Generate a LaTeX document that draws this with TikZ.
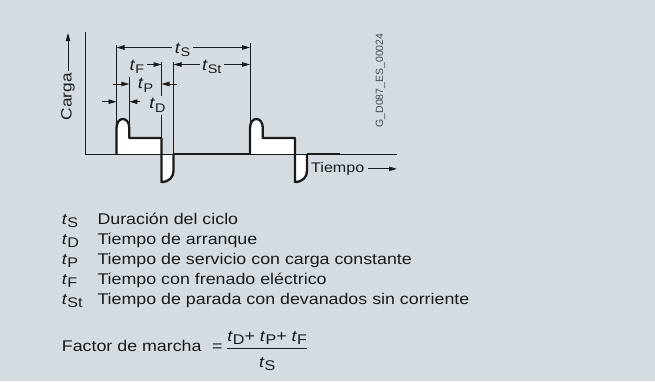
\documentclass[tikz,border=0pt]{standalone}
\usepackage{fontspec}
\setmainfont{Liberation Sans}[FakeStretch=1.15]
\newfontfamily\codefont{Liberation Sans}
\usetikzlibrary{positioning,arrows.meta}
\definecolor{sheet}{HTML}{D5DCE1}
\definecolor{ink}{HTML}{1A1A1A}
\definecolor{ink2}{HTML}{4A4A4A}
% t with a lowered upright index (legend, diagram)
\newcommand{\tsym}[1]{\textit{t}\raisebox{-3pt}{\fontsize{14}{16}\selectfont #1}}
\newcommand{\tlab}[1]{{\fontsize{16}{18}\selectfont\textit{t}}\raisebox{-3.5pt}{\fontsize{12.5}{14}\selectfont #1}}
\newcommand{\pulsepath}{(116.5,154.3) -- (116.5,128) .. controls (116.5,116) and (129.3,116) .. (129.3,128) -- (129.3,138) -- (161.5,138) -- (161.5,182) .. controls (169,182) and (173.5,177) .. (173.5,171) -- (173.5,154.3)}

\begin{document}
\begin{tikzpicture}[x=1pt, y=-1pt,
  font=\fontsize{15.5}{18}\selectfont, text=ink,
  >={Triangle[length=8pt,width=4.5pt]},
  axis/.style={draw=ink, line width=1pt},
  ext/.style={draw=ink, line width=0.9pt},
  dim/.style={->, draw=ink, line width=0.9pt},
  dimboth/.style={<->, draw=ink, line width=0.9pt},
  load/.style={draw=ink, line width=2.3pt, line join=round},
  lab/.style={anchor=base, inner sep=2.5pt},
  gap/.style={lab, fill=sheet},
  leg/.style={anchor=base west, inner sep=0pt}]
\useasboundingbox (0,0) rectangle (655,381);
\fill[sheet] (0,0) rectangle (655,381);
% extension lines
\draw[ext] (116.5,45) -- (116.5,130);
\draw[ext] (129.3,77) -- (129.3,138);
\draw[ext] (161.5,61.7) -- (161.5,138);
\draw[ext] (173.5,61.7) -- (173.5,154.3);
\draw[ext] (250,43) -- (250,130);
% load cycles
\foreach \n/\s in {1/0,2/133.5} {
  \begin{scope}[xshift=\s pt]
    \coordinate (a\n) at (116.5,154.3);
    \coordinate (d\n) at (173.5,154.3);
    \fill[white] \pulsepath -- cycle;
  \end{scope}
}
% axes
\coordinate (o) at (85.7,154.3);
\coordinate (ytop) at (85.7,32);
\coordinate (xend) at (397,154.3);
\draw[axis] (ytop) -- (o) -- (xend);
\foreach \s in {0,133.5}
  \draw[load, xshift=\s pt] \pulsepath;
\draw[load] (d1) -- (a2);
\draw[load] (d2) -- ++(33,0);
% t_S
\coordinate (sL) at (116.5,47.5);
\coordinate (sR) at (250,47.5);
\draw[dimboth] (sL) -- (sR);
\node[gap] (tS) at (182.5,53) {\tlab{S}};
% t_St
\coordinate (stL) at (173.5,64.5);
\coordinate (stR) at (250,64.5);
\draw[dimboth] (stL) -- (stR);
\node[gap] (tSt) at (211.7,70) {\tlab{St}};
% t_F
\node[lab] (tF) at (137,70) {\tlab{F}};
\coordinate (fR) at (161.5,64.5);
\draw[dim] (tF.east |- fR) -- (fR);
% t_P
\coordinate (pL) at (129.3,84);
\coordinate (pR) at (161.5,84);
\draw[dim] ([xshift=-16pt]pL) -- (pL);
\draw[dim] ([xshift=15pt]pR) -- (pR);
\node[lab] (tP) at (145.5,88.5) {\tlab{P}};
% t_D
\coordinate (dL) at (116.5,101.7);
\coordinate (dR) at (129.3,101.7);
\draw[dim] ([xshift=-15pt]dL) -- (dL);
\draw[dim] ([xshift=11pt]dR) -- (dR);
\node[gap] (tD) at (157.5,108.5) {\tlab{D}};
% axis labels
\node[rotate=90, inner sep=2pt, font=\fontsize{15}{18}\selectfont] (carga) at (68,96.7) {Carga};
\coordinate (ytip) at (70,33);
\draw[dim] (carga.east) -- (carga.east |- ytip);
\node[anchor=base west, inner sep=2pt, font=\fontsize{14}{16}\selectfont] (tiempo) at (309,172.5) {Tiempo};
\coordinate (tend) at (397,169);
\draw[dim] ([xshift=2pt]tiempo.east) -- (tiempo.east -| tend);
\node[rotate=90, font=\codefont\fontsize{10.5}{12}\selectfont, text=ink2] (code) at (380.5,80.5) {G\_D087\_ES\_00024};
% legend
\foreach \y/\s/\txt in {224.5/S/Duración del ciclo, 244.5/D/Tiempo de arranque,
  264.5/P/Tiempo de servicio con carga constante, 284.5/F/Tiempo con frenado eléctrico,
  304.5/St/Tiempo de parada con devanados sin corriente} {
  \node[leg] (sym\s) at (61.7,\y) {\tsym{\s}};
  \node[leg] (txt\s) at (97.3,\y) {\txt};
}
\node[leg] (factor) at (61.7,351.7) {Factor de marcha};
\node[leg] (eq) at (212,351.7) {=};
\node[leg] (frac) at (226,351.7) {$\displaystyle\frac{\mbox{\tsym{D}+ \tsym{P}+ \tsym{F}}}{\mbox{\rule{0pt}{18pt}\tsym{S}}}$};
\end{tikzpicture}
\end{document}
